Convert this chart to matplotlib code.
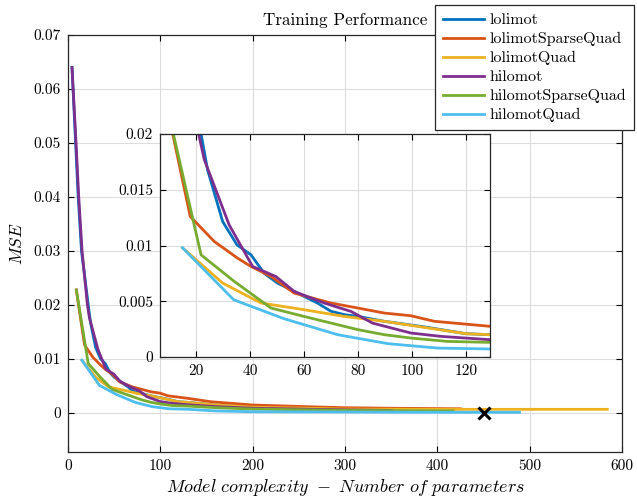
import matplotlib
matplotlib.use("Agg")
import matplotlib.pyplot as plt

plt.rcParams['font.family'] = 'serif'
plt.rcParams['font.serif'] = ['cmr10']
plt.rcParams['mathtext.fontset'] = 'cm'
plt.rcParams['axes.formatter.use_mathtext'] = True

series_names = ["lolimot", "lolimotSparseQuad", "lolimotQuad", "hilomot",
                "hilomotSparseQuad", "hilomotQuad"]
series_colors = ["#0072BD", "#D95319", "#EDB120", "#7E2F8E", "#77AC30", "#4DBEEE"]

lolimot_x = [4.3, 8.2, 11.0, 14.6, 21.9, 24.3, 29.9, 35.2, 40.4, 45.3, 50.2, 55.2,
             60.1, 65, 70, 75, 80, 89.8, 104.6, 120, 129, 160, 200, 300]
lolimot_y = [0.064, 0.05, 0.04, 0.03, 0.02, 0.0168, 0.01215, 0.01006, 0.00916, 0.0075,
             0.00663, 0.00603, 0.00543, 0.00484, 0.0041, 0.0038, 0.00364, 0.0032,
             0.0027, 0.00209, 0.002, 0.0015, 0.0011, 0.00075]

lolimotSparseQuad_x = [9, 11.4, 17.9, 26.8, 35.4, 40.4, 47.8, 56.4, 70, 80, 89.8, 99.6,
                       108.3, 129, 143, 155, 200, 262, 300, 350, 425]
lolimotSparseQuad_y = [0.0228, 0.02, 0.0126, 0.01036, 0.00887, 0.00812, 0.00722, 0.00573,
                       0.00484, 0.00439, 0.00394, 0.0037, 0.0032, 0.00275, 0.0024, 0.0021,
                       0.0015, 0.00117, 0.001, 0.0009, 0.0008]

lolimotQuad_x = [15, 29.9, 44.1, 60.1, 74.9, 89.8, 102, 120, 129, 160, 200, 262, 300,
                 400, 500, 584]
lolimotQuad_y = [0.0098, 0.00663, 0.00484, 0.00424, 0.00364, 0.0032, 0.00275, 0.00209,
                 0.002, 0.0015, 0.0011, 0.0009, 0.00075, 0.0007, 0.0007, 0.0007]

hilomot_x = [4.3, 8.7, 11.6, 15.2, 21.0, 23.1, 32.3, 41, 49.6, 56.4, 67.5, 77.4, 85.4,
             99.6, 110.7, 129, 160, 200, 300, 350]
hilomot_y = [0.064, 0.05, 0.04, 0.03, 0.02, 0.0177, 0.01185, 0.00812, 0.00722, 0.00588,
             0.00484, 0.00409, 0.00304, 0.00215, 0.00185, 0.00155, 0.0012, 0.0009,
             0.0006, 0.0005]

hilomotSparseQuad_x = [9, 21.9, 34.2, 47.8, 60, 80, 89.8, 99.6, 113, 129, 160, 200, 300, 417]
hilomotSparseQuad_y = [0.0228, 0.00916, 0.00678, 0.00439, 0.00364, 0.00245, 0.002, 0.0017,
                       0.0014, 0.00131, 0.001, 0.00075, 0.0005, 0.0004]

hilomotQuad_x = [15, 34, 52.7, 72.5, 91, 109.5, 129, 160, 200, 300, 400, 489]
hilomotQuad_y = [0.0098, 0.00513, 0.00343, 0.002, 0.0012, 0.0008, 0.00072, 0.0004,
                 0.00025, 0.0002, 0.00015, 0.00015]

best_x = [451]
best_y = [0.0]

main_xticks = [0, 100, 200, 300, 400, 500, 600]
main_yticks = [0, 0.01, 0.02, 0.03, 0.04, 0.05, 0.06, 0.07]
main_yticklabels = ["0", "0.01", "0.02", "0.03", "0.04", "0.05", "0.06", "0.07"]
inset_xticks = [20, 40, 60, 80, 100, 120]
inset_yticks = [0, 0.005, 0.01, 0.015, 0.02]
inset_yticklabels = ["0", "0.005", "0.01", "0.015", "0.02"]

all_x = [lolimot_x, lolimotSparseQuad_x, lolimotQuad_x, hilomot_x, hilomotSparseQuad_x, hilomotQuad_x]
all_y = [lolimot_y, lolimotSparseQuad_y, lolimotQuad_y, hilomot_y, hilomotSparseQuad_y, hilomotQuad_y]

fig = plt.figure(figsize=(6.37, 5.0), dpi=100)
ax = fig.add_axes([0.1068, 0.096, 0.8697, 0.834])

lines = []
for xs, ys, c, n in zip(all_x, all_y, series_colors, series_names):
    l, = ax.plot(xs, ys, color=c, lw=2.0, label=n)
    lines.append(l)
ax.plot(best_x, best_y, 'x', color='black', ms=9, mew=2.2, zorder=5)

def style(a):
    a.grid(True, color='#dcdcdc', lw=0.8)
    a.set_axisbelow(True)
    a.tick_params(direction='in', top=True, right=True, length=4, width=0.8,
                  labelsize=11, pad=5)
    for s in a.spines.values():
        s.set_linewidth(0.9)
        s.set_color('#262626')

ax.set_xlim(0, 600)
ax.set_ylim(-0.0072, 0.07)
ax.set_xticks(main_xticks)
ax.set_xticklabels([str(t) for t in main_xticks])
ax.set_yticks(main_yticks)
ax.set_yticklabels(main_yticklabels)
style(ax)
ax.set_title("Training Performance", fontsize=12.3, pad=7)
ax.set_xlabel(r"$Model\ complexity\ -\ Number\ of\ parameters$", fontsize=13, labelpad=3)
ax.set_ylabel(r"$MSE$", fontsize=12.5, labelpad=6)

leg = ax.legend(handles=lines, loc='upper left', bbox_to_anchor=(0.662, 1.072),
                frameon=True, fancybox=False, edgecolor='#262626', framealpha=1,
                fontsize=11.5, handlelength=2.6, handletextpad=0.3, labelspacing=0.3,
                borderpad=0.5, borderaxespad=0)
leg.get_frame().set_linewidth(0.9)

axin = fig.add_axes([0.2512, 0.286, 0.518, 0.446])
for xs, ys, c in zip(all_x, all_y, series_colors):
    axin.plot(xs, ys, color=c, lw=2.0)
axin.set_xlim(6.7, 128.9)
axin.set_ylim(0, 0.02)
axin.set_xticks(inset_xticks)
axin.set_xticklabels([str(t) for t in inset_xticks])
axin.set_yticks(inset_yticks)
axin.set_yticklabels(inset_yticklabels)
style(axin)

fig.savefig("out.png", dpi=100)
